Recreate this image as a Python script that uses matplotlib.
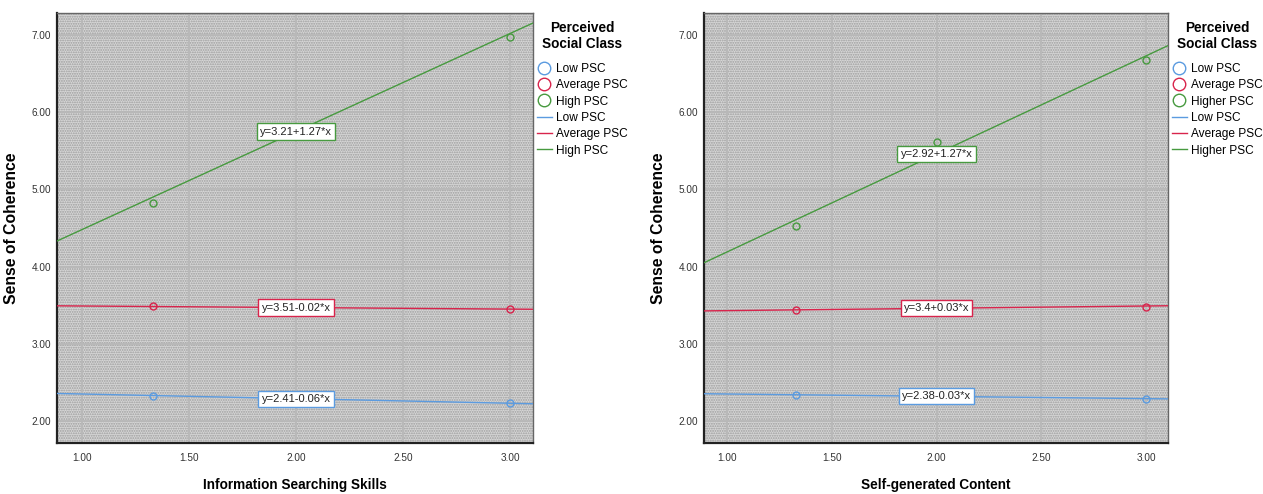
import matplotlib
matplotlib.use("Agg")
import matplotlib.pyplot as plt
import numpy as np
from matplotlib.lines import Line2D

plt.rcParams['font.family'] = ['Liberation Sans', 'DejaVu Sans']
plt.rcParams['hatch.linewidth'] = 0.9

# data
groups_left = ["Low PSC", "Average PSC", "High PSC"]
groups_right = ["Low PSC", "Average PSC", "Higher PSC"]
colors = ["#5b9be0", "#d8244c", "#479a3f"]

# left panel: Information Searching Skills
left_x = [[1.33, 3.0], [1.33, 3.0], [1.33, 3.0]]
left_y = [[2.33, 2.23], [3.49, 3.45], [4.83, 6.97]]
left_fit = [(2.41, -0.06), (3.51, -0.02), (3.21, 1.27)]
left_eq = ["y=2.41-0.06*x", "y=3.51-0.02*x", "y=3.21+1.27*x"]

# right panel: Self-generated Content
right_x = [[1.33, 3.0], [1.33, 3.0], [1.33, 2.0, 3.0]]
right_y = [[2.34, 2.28], [3.44, 3.48], [4.53, 5.61, 6.68]]
right_fit = [(2.38, -0.03), (3.4, 0.03), (2.92, 1.27)]
right_eq = ["y=2.38-0.03*x", "y=3.4+0.03*x", "y=2.92+1.27*x"]

yticks = [2, 3, 4, 5, 6, 7]
xticks = [1.0, 1.5, 2.0, 2.5, 3.0]

fig = plt.figure(figsize=(12.63, 4.94), dpi=100)
ax1 = fig.add_axes([0.0451, 0.1032, 0.3769, 0.8704])
ax2 = fig.add_axes([0.5574, 0.1032, 0.3674, 0.8704])


def panel(ax, xs, ys, fits, eqs, names, xlabel, xlim):
    ax.set_facecolor('#d6d6d6')
    ax.patch.set_edgecolor('#9c9c9c')
    ax.patch.set_linewidth(0)
    ax.patch.set_hatch('.......')
    ax.set_xlim(xlim)
    ax.set_ylim(1.715, 7.285)
    ax.set_xticks(xticks)
    ax.set_xticklabels(["%.2f" % t for t in xticks])
    ax.set_yticks(yticks)
    ax.set_yticklabels(["%.2f" % t for t in yticks])
    ax.grid(True, color='#b8b8b8', linewidth=1.3)
    ax.set_axisbelow(True)
    ax.tick_params(labelsize=7.2, length=0, colors='#333333')
    ax.tick_params(axis='y', pad=4)
    ax.tick_params(axis='x', pad=7)
    for s in ['left', 'bottom']:
        ax.spines[s].set_color('#222222')
        ax.spines[s].set_linewidth(1.6)
    for s in ['top', 'right']:
        ax.spines[s].set_color('#666666')
        ax.spines[s].set_linewidth(1.0)
    xx = np.array(xlim)
    for i in range(3):
        a, b = fits[i]
        ax.plot(xs[i], ys[i], 'o', mfc='none', mec=colors[i], ms=5, mew=1.0, zorder=3)
        ax.plot(xx, a + b * xx, color=colors[i], lw=1.0, zorder=3)
        ax.text(2.0, a + b * 2.0, eqs[i], ha='center', va='center', fontsize=8,
                color='#222222', zorder=5,
                bbox=dict(boxstyle='square,pad=0.28', fc='white', ec=colors[i], lw=1.0))
    ax.set_xlabel(xlabel, fontsize=9.8, fontweight='bold', labelpad=11)
    ax.set_ylabel("Sense of Coherence", fontsize=11.3, fontweight='bold', labelpad=9)
    handles = [Line2D([], [], marker='o', ls='none', mfc='none', mec=c, ms=9, mew=1.0)
               for c in colors]
    handles += [Line2D([], [], color=c, lw=1.0) for c in colors]
    labels = names + names
    leg = ax.legend(handles, labels, title="Perceived\nSocial Class", loc='upper left',
                    bbox_to_anchor=(1.0, 0.99), frameon=False, fontsize=8.6,
                    handlelength=1.3, handletextpad=0.3, labelspacing=0.36,
                    borderaxespad=0.0, borderpad=0.3)
    leg.get_title().set_fontweight('bold')
    leg.get_title().set_fontsize(9.8)
    leg.get_title().set_multialignment('center')
    leg.get_title().set_linespacing(1.15)
    leg._legend_box.sep = 9


panel(ax1, left_x, left_y, left_fit, left_eq, groups_left,
      "Information Searching Skills", (0.883, 3.107))
panel(ax2, right_x, right_y, right_fit, right_eq, groups_right,
      "Self-generated Content", (0.89, 3.105))

fig.savefig("out.png", dpi=100)
